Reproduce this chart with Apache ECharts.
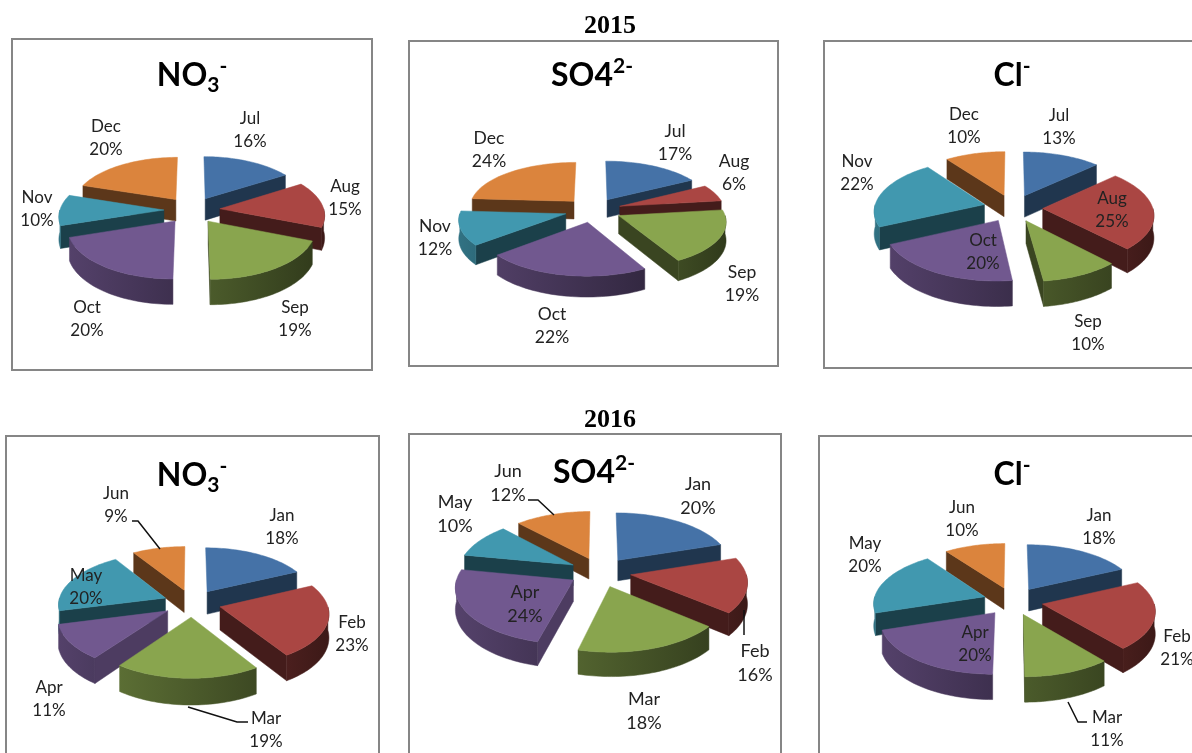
<!DOCTYPE html>
<html>
<head>
<meta charset="utf-8">
<title>Seasonal ions</title>
<style>
  html, body { margin: 0; padding: 0; background: #fff; overflow: hidden; }
  #myChart { width: 1192px; height: 753px; }
</style>
<script src="https://cdn.jsdelivr.net/npm/echarts@6/dist/echarts.min.js"></script>
</head>
<body>
<div id="myChart"></div>
<script>
// values
var months2015 = ['Jul', 'Aug', 'Sep', 'Oct', 'Nov', 'Dec']
var months2016 = ['Jan', 'Feb', 'Mar', 'Apr', 'May', 'Jun']
var no3_2015 = [16, 15, 19, 20, 10, 20]
var so4_2015 = [17, 6, 19, 22, 12, 24]
var cl_2015 = [13, 25, 10, 20, 22, 10]
var no3_2016 = [18, 23, 19, 11, 20, 9]
var so4_2016 = [20, 16, 18, 24, 10, 12]
var cl_2016 = [18, 21, 11, 20, 20, 10]

var colors = ['#4572a7', '#aa4643', '#89a54e', '#71588f', '#4198af', '#db843d']
// how dark the flat cut faces are, per colour
var cutShade = [0.47, 0.4, 0.42, 0.68, 0.42, 0.42]

// pie geometry of every panel, label centres are in month order
var panels = [
  { months: months2015, values: no3_2015, cx: 192, cy: 210, rx: 104, ry: 49, depth: 22, font: 17,
    labels: [[250, 130], [345, 198], [295, 319], [87, 319], [37, 209], [106, 138]] },
  { months: months2015, values: so4_2015, cx: 593, cy: 210, rx: 105, ry: 45, depth: 18, font: 17.5,
    labels: [[675, 143], [734, 173], [742, 284], [552, 326], [435, 238], [489, 150]] },
  { months: months2015, values: cl_2015, cx: 1013, cy: 208, rx: 110, ry: 51, depth: 22, font: 17,
    labels: [[1059, 127], [1112, 210], [1088, 333], [983, 252], [857, 173], [964, 126]] },
  { months: months2016, values: no3_2016, cx: 192, cy: 603, rx: 107, ry: 51, depth: 23, font: 17,
    labels: [[282, 527], [352, 634], [266, 730], [49, 699], [86, 587], [116, 505]] },
  { months: months2016, values: so4_2016, cx: 600, cy: 572, rx: 115, ry: 55, depth: 21, font: 18,
    labels: [[698, 496], [755, 663], [644, 711], [525, 604], [455, 514], [508, 483]] },
  { months: months2016, values: cl_2016, cx: 1013, cy: 601, rx: 111, ry: 52, depth: 22, font: 17,
    labels: [[1099, 527], [1177, 648], [1107, 729], [975, 644], [865, 555], [962, 519]] }
]

var explode = 0.27
var perspective = 0.11

function shade (hex, f) {
  var n = parseInt(hex.slice(1), 16)
  var r = Math.round((n >> 16) * f)
  var g = Math.round(((n >> 8) & 255) * f)
  var b = Math.round((n & 255) * f)
  return 'rgb(' + r + ',' + g + ',' + b + ')'
}

// X and Z are in pie radii on the pie plane, Z goes away from the viewer
function project (p, X, Z, drop) {
  var s = 1 / (1 + perspective * Z)
  return [p.cx + p.rx * X * s, p.cy - p.ry * Z * s + (drop ? p.depth * s : 0)]
}

function renderSlice (p, api) {
  var value = api.value(0)
  var start = api.value(1)
  var idx = api.value(2)
  var total = p.values.reduce(function (a, b) { return a + b }, 0)
  var a0 = start / total * 2 * Math.PI
  var a1 = (start + value) / total * 2 * Math.PI
  var mid = (a0 + a1) / 2
  var ox = explode * Math.sin(mid)
  var oz = explode * Math.cos(mid)
  var color = colors[idx]

  function rim (a, drop) {
    return project(p, ox + Math.sin(a), oz + Math.cos(a), drop)
  }
  function poly (points, fill) {
    return { type: 'polygon', shape: { points: points }, style: { fill: fill, stroke: fill, lineWidth: 0.5 } }
  }

  var children = []
  var apex = project(p, ox, oz, false)
  var apexLow = project(p, ox, oz, true)

  // cut faces that look at the viewer
  if (Math.sin(a0) < 0) {
    children.push(poly([apex, rim(a0, false), rim(a0, true), apexLow], shade(color, cutShade[idx])))
  }
  if (Math.sin(a1) > 0) {
    children.push(poly([apex, rim(a1, false), rim(a1, true), apexLow], shade(color, cutShade[idx])))
  }

  // outer wall, only the near half of the rim shows
  var w0 = Math.max(a0, Math.PI / 2)
  var w1 = Math.min(a1, Math.PI * 1.5)
  if (w1 > w0) {
    var upper = []
    var lower = []
    for (var i = 0; i <= 40; i++) {
      var a = w0 + (w1 - w0) * i / 40
      upper.push(rim(a, false))
      lower.unshift(rim(a, true))
    }
    var sinA = Math.sin(w0)
    var sinB = Math.sin(w1)
    var wall = new echarts.graphic.LinearGradient(0, 0, 1, 0, [
      { offset: 0, color: shade(color, 0.55 - 0.2 * Math.min(sinA, sinB)) },
      { offset: 1, color: shade(color, 0.55 - 0.2 * Math.max(sinA, sinB)) }
    ])
    children.push(poly(upper.concat(lower), wall))
  }

  // top face
  var top = [apex]
  for (var j = 0; j <= 40; j++) {
    top.push(rim(a0 + (a1 - a0) * j / 40, false))
  }
  children.push(poly(top, color))

  return { type: 'group', children: children }
}

function sliceSeries (p) {
  var rows = []
  var sum = 0
  p.values.forEach(function (v, i) {
    rows.push([v, sum, i])
    sum += v
  })
  // painter's order, far slices first
  var total = sum
  rows.sort(function (a, b) {
    var ma = Math.cos((a[1] + a[0] / 2) / total * 2 * Math.PI)
    var mb = Math.cos((b[1] + b[0] / 2) / total * 2 * Math.PI)
    return mb - ma
  })
  return {
    type: 'custom',
    coordinateSystem: 'none',
    silent: true,
    animation: false,
    z: 2,
    data: rows,
    renderItem: function (params, api) {
      return renderSlice(p, api)
    }
  }
}

function labelSeries (p) {
  return {
    type: 'custom',
    coordinateSystem: 'none',
    silent: true,
    animation: false,
    z: 5,
    data: p.values.map(function (v, i) { return [v, i] }),
    renderItem: function (params, api) {
      var i = api.value(1)
      return {
        type: 'text',
        x: p.labels[i][0],
        y: p.labels[i][1],
        style: {
          text: p.months[i] + '\n' + api.value(0) + '%',
          align: 'center',
          verticalAlign: 'middle',
          font: p.font + 'px Lato',
          lineHeight: p.font + 5.5,
          fill: '#222'
        }
      }
    }
  }
}

// panel frames
var frames = [
  [12, 39, 360, 331], [409, 41, 369, 325], [824, 41, 400, 327],
  [6, 436, 373, 340], [409, 434, 372, 340], [819, 436, 400, 340]
]
// leader lines
var leaders = [
  [[132, 521], [138, 521], [160, 549]],
  [[188, 707], [237, 722], [248, 722]],
  [[528, 500], [538, 500], [554, 515]],
  [[744, 610], [744, 635]],
  [[1068, 702], [1078, 722], [1087, 722]]
]

var graphics = []
frames.forEach(function (f) {
  graphics.push({
    type: 'rect',
    z: 0,
    shape: { x: f[0], y: f[1], width: f[2], height: f[3] },
    style: { fill: '#fff', stroke: '#868686', lineWidth: 2 }
  })
})
leaders.forEach(function (l) {
  graphics.push({
    type: 'polyline',
    z: 10,
    shape: { points: l },
    style: { fill: null, stroke: '#111', lineWidth: 1.5 }
  })
})

var titleRich = {
  m: { fontFamily: 'Lato', fontWeight: 'bold', fontSize: 32, lineHeight: 40, color: '#000' },
  b: { fontFamily: 'Lato', fontWeight: 'bold', fontSize: 21, lineHeight: 19, verticalAlign: 'bottom', color: '#000' },
  t: { fontFamily: 'Lato', fontWeight: 'bold', fontSize: 21, lineHeight: 21, verticalAlign: 'top', color: '#000' }
}
function ionTitle (text, x, y) {
  return {
    text: text,
    left: x,
    top: y,
    padding: 0,
    textAlign: 'center',
    textVerticalAlign: 'middle',
    textStyle: { rich: titleRich }
  }
}
function yearTitle (text, y) {
  return {
    text: text,
    left: 610,
    top: y,
    padding: 0,
    textAlign: 'center',
    textVerticalAlign: 'middle',
    textStyle: { fontFamily: 'Liberation Serif', fontWeight: 'bold', fontSize: 26, color: '#000' }
  }
}

var series = []
panels.forEach(function (p) {
  series.push(sliceSeries(p))
  series.push(labelSeries(p))
})

var myChart = echarts.init(document.getElementById('myChart'))
myChart.setOption({
  animation: false,
  backgroundColor: '#fff',
  title: [
    yearTitle('2015', 26),
    yearTitle('2016', 420),
    ionTitle('{m|NO}{b|3}{t|-}', 192, 76),
    ionTitle('{m|SO4}{t|2-}', 592, 76),
    ionTitle('{m|Cl}{t|-}', 1012, 76),
    ionTitle('{m|NO}{b|3}{t|-}', 192, 476),
    ionTitle('{m|SO4}{t|2-}', 594, 473),
    ionTitle('{m|Cl}{t|-}', 1012, 475)
  ],
  graphic: graphics,
  series: series
})
</script>
</body>
</html>
